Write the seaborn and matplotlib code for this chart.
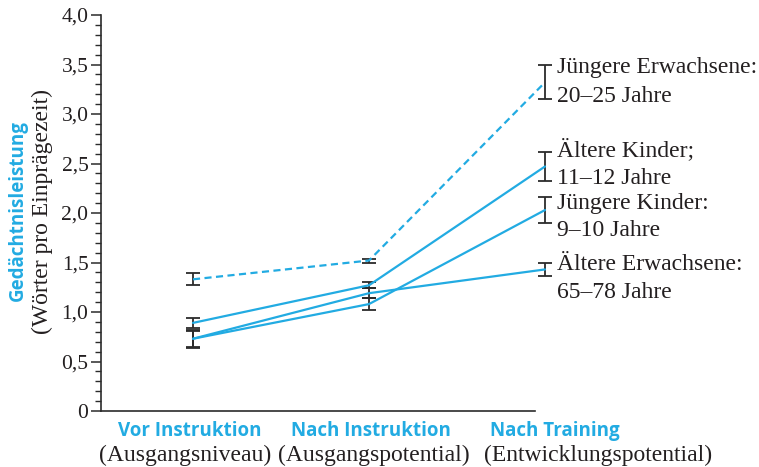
import matplotlib
matplotlib.use("Agg")
import matplotlib.pyplot as plt
from matplotlib.ticker import MultipleLocator, FixedLocator
import numpy as np
import pandas as pd
import seaborn as sns

# Messzeitpunkte
phasen = ["Vor Instruktion", "Nach Instruktion", "Nach Training"]
phasen_sub = ["(Ausgangsniveau)", "(Ausgangspotential)", "(Entwicklungspotential)"]

# Gruppen und Mittelwerte (Wörter pro Einprägezeit)
gruppen = ["Jüngere Erwachsene", "Ältere Kinder", "Jüngere Kinder", "Ältere Erwachsene"]
jung_erw = [1.33, 1.52, 3.32]
alt_kinder = [0.89, 1.27, 2.47]
jung_kinder = [0.73, 1.08, 2.03]
alt_erw = [0.73, 1.19, 1.43]

# Standardfehler
jung_erw_err = [0.06, 0.02, 0.17]
alt_kinder_err = [0.05, 0.03, 0.15]
jung_kinder_err = [0.08, 0.06, 0.13]
alt_erw_err = [0.09, 0.05, 0.07]

gruppen_label = [
    ["Jüngere Erwachsene:", "20–25 Jahre"],
    ["Ältere Kinder;", "11–12 Jahre"],
    ["Jüngere Kinder:", "9–10 Jahre"],
    ["Ältere Erwachsene:", "65–78 Jahre"],
]

y_ticks = [0, 0.5, 1.0, 1.5, 2.0, 2.5, 3.0, 3.5, 4.0]
y_ticklabels = ["0", "0,5", "1,0", "1,5", "2,0", "2,5", "3,0", "3,5", "4,0"]

werte = [jung_erw, alt_kinder, jung_kinder, alt_erw]
fehler = [jung_erw_err, alt_kinder_err, jung_kinder_err, alt_erw_err]

df = pd.DataFrame({
    "phase": np.tile(np.arange(len(phasen)), len(gruppen)),
    "wert": np.concatenate(werte),
    "fehler": np.concatenate(fehler),
    "gruppe": np.repeat(gruppen, len(phasen)),
})

CYAN = "#22abe2"
DARK = "#2b2b2b"
TEXT = "#231f20"
SERIF = "Liberation Serif"
SANS = "Open Sans"

sns.set_theme(style="white")
plt.rcParams["font.family"] = [SERIF, "DejaVu Serif"]

fig = plt.figure(figsize=(7.59, 4.67), dpi=100)
ax = fig.add_axes([101 / 759, 56 / 467, (759 - 101) / 759, 396 / 467])

# Fehlerbalken
for g in gruppen:
    sub = df[df["gruppe"] == g]
    ax.errorbar(sub["phase"], sub["wert"], yerr=sub["fehler"], fmt="none",
                ecolor=DARK, elinewidth=1.3, capsize=5, capthick=1.3, zorder=2)

sns.lineplot(data=df, x="phase", y="wert", hue="gruppe", style="gruppe",
             palette={g: CYAN for g in gruppen},
             dashes={"Jüngere Erwachsene": (3.2, 2.0), "Ältere Kinder": "",
                     "Jüngere Kinder": "", "Ältere Erwachsene": ""},
             linewidth=1.6, legend=False, ax=ax, zorder=3, errorbar=None)

px = 176.0
ax.set_xlim((101 - 193) / px, (759 - 193) / px)
ax.set_ylim(0, 4.0)

for s in ["top", "right"]:
    ax.spines[s].set_visible(False)
for s in ["left", "bottom"]:
    ax.spines[s].set_color(DARK)
    ax.spines[s].set_linewidth(1.2)
ax.spines["bottom"].set_bounds((101 - 193) / px, (535 - 193) / px)

ax.yaxis.set_major_locator(FixedLocator(y_ticks))
ax.set_yticklabels(y_ticklabels, fontsize=15.5, color=TEXT, family=SERIF)
ax.yaxis.set_minor_locator(MultipleLocator(0.1))
ax.tick_params(axis="y", which="major", direction="out", length=7, width=1.1,
               color=DARK, left=True, pad=2)
ax.tick_params(axis="y", which="minor", direction="out", length=4, width=1.0,
               color=DARK, left=True)
ax.set_xticks([])
ax.set_xlabel("")
ax.set_ylabel("")

# Achsentitel
fig.text(18 / 759, 1 - 211 / 467, "Gedächtnisleistung", rotation=90,
         ha="center", va="center", color=CYAN, fontsize=13.5, fontweight="bold",
         family=SANS)
fig.text(42 / 759, 1 - 212 / 467, "(Wörter pro Einprägezeit)", rotation=90,
         ha="center", va="center", color=TEXT, fontsize=17, family=SERIF)

# Beschriftung der Messzeitpunkte
kopf_x = [190, 371, 555]
sub_x = [185, 374, 598]
for i in range(len(phasen)):
    fig.text(kopf_x[i] / 759, 1 - 431 / 467, phasen[i], ha="center", va="center",
             color=CYAN, fontsize=13.5, fontweight="bold", family=SANS)
    fig.text(sub_x[i] / 759, 1 - 455 / 467, phasen_sub[i], ha="center", va="center",
             color=TEXT, fontsize=17, family=SERIF)

# Gruppenbeschriftung rechts
label_y = [68, 150, 203, 265]
for (z1, z2), yp in zip(gruppen_label, label_y):
    fig.text(557 / 759, 1 - yp / 467, z1, ha="left", va="center",
             color=TEXT, fontsize=17, family=SERIF)
    fig.text(557 / 759, 1 - (yp + 28) / 467, z2, ha="left", va="center",
             color=TEXT, fontsize=17, family=SERIF)

fig.savefig("out.png", dpi=100, facecolor="white")
